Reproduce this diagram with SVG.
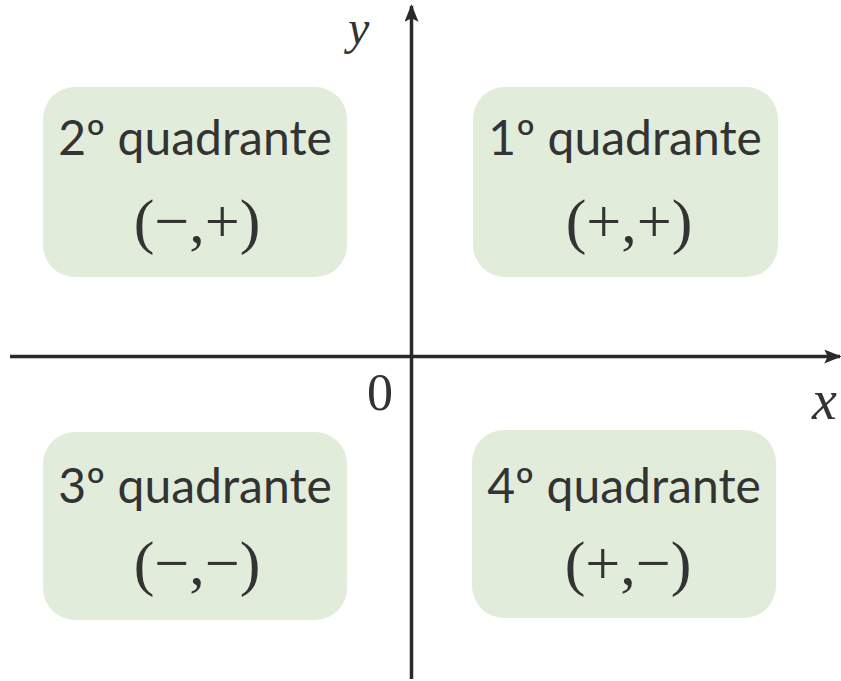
<svg xmlns="http://www.w3.org/2000/svg" width="841" height="681" viewBox="0 0 841 681">
<style>
.box{fill:#e2ecdb;}
.title{font-family:Lato,"Open Sans","Noto Sans",sans-serif;font-size:48px;fill:#333;text-anchor:middle;}
.sign{font-family:"Liberation Serif","Times New Roman",serif;font-size:62px;fill:#333;text-anchor:middle;}
.axis{stroke:#2a2a2a;stroke-width:3.5;fill:none;}
.lbl{font-family:"Liberation Serif","Times New Roman",serif;fill:#333;}
</style>
<defs>
<marker id="arr" viewBox="0 0 20 16" refX="18" refY="8" markerWidth="18" markerHeight="14" markerUnits="userSpaceOnUse" orient="auto">
<path d="M0,0 L20,8 L0,16 L4,8 Z" fill="#2a2a2a"/>
</marker>
</defs>
<rect width="841" height="681" fill="#fff"/>
<g id="q2">
<rect class="box" x="43" y="87" width="304" height="190" rx="32"/>
<text class="title" x="195" y="155">2º quadrante</text>
<text class="sign" x="197" y="242">(−,+)</text>
</g>
<g id="q1">
<rect class="box" x="473" y="87" width="305" height="190" rx="32"/>
<text class="title" x="625" y="155">1º quadrante</text>
<text class="sign" x="629" y="242">(+,+)</text>
</g>
<g id="q3">
<rect class="box" x="43" y="432" width="304" height="188" rx="32"/>
<text class="title" x="195" y="503">3º quadrante</text>
<text class="sign" x="197" y="584">(−,−)</text>
</g>
<g id="q4">
<rect class="box" x="472" y="430" width="304" height="188" rx="32"/>
<text class="title" x="624" y="503">4º quadrante</text>
<text class="sign" x="628" y="584">(+,−)</text>
</g>
<g id="axes">
<line class="axis" x1="10" y1="356.5" x2="840" y2="356.5" marker-end="url(#arr)"/>
<line class="axis" x1="411.5" y1="679" x2="411.5" y2="6" marker-end="url(#arr)"/>
</g>
<g id="labels">
<text class="lbl" x="380" y="410" font-size="52" text-anchor="middle">0</text>
<text class="lbl" x="812" y="419" font-size="56" font-style="italic">x</text>
<text class="lbl" x="348" y="44" font-size="48" font-style="italic">y</text>
</g>
</svg>
